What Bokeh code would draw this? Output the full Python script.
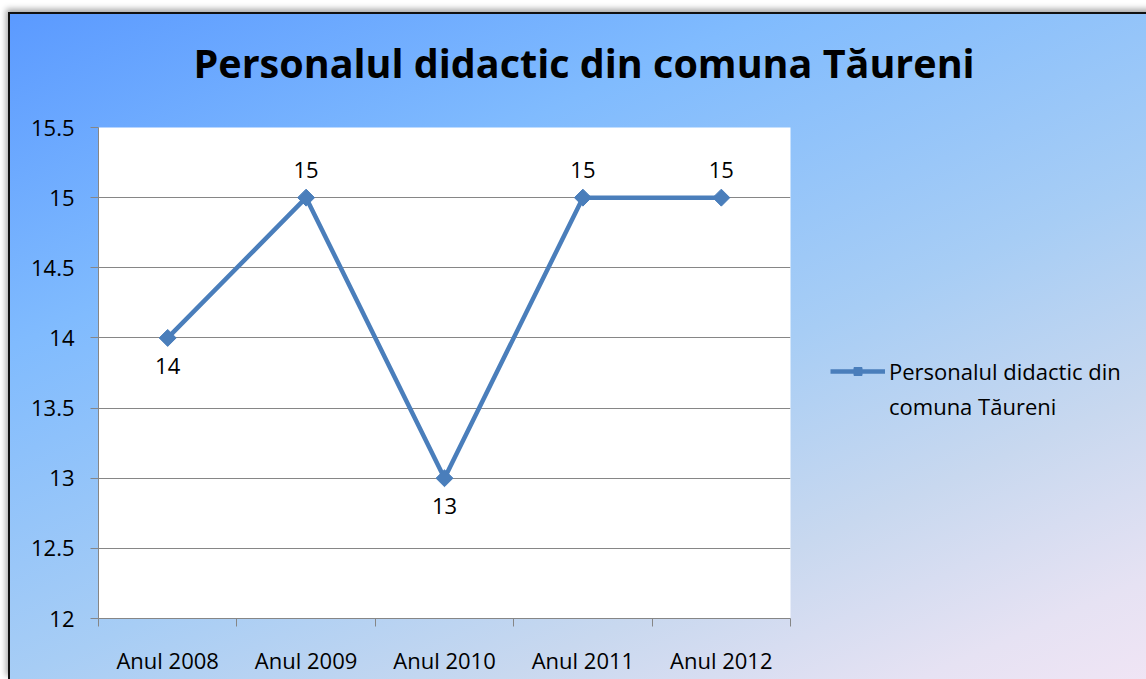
from bokeh.plotting import figure
from bokeh.models import FixedTicker, Legend, LegendItem, ColumnDataSource, Title
from bokeh.embed import file_html
from bokeh.resources import INLINE
from bokeh.core.properties import value

categories = ["Anul 2008", "Anul 2009", "Anul 2010", "Anul 2011", "Anul 2012"]
values = [14, 15, 13, 15, 15]
label_pos = ["below", "above", "below", "above", "above"]
y_ticks = [12.0, 12.5, 13.0, 13.5, 14.0, 14.5, 15.0, 15.5]
y_tick_labels = ["12", "12.5", "13", "13.5", "14", "14.5", "15", "15.5"]
chart_title = "Personalul didactic din comuna Tăureni"
series_name_lines = ["Personalul didactic din", "comuna Tăureni"]

FONT = "Open Sans"
LINE_COLOR = "#4A7EBB"
GRID = "#868686"

xs = [i + 0.5 for i in range(len(categories))]
offsets = [28 if pos == "below" else -28 for pos in label_pos]
src = ColumnDataSource(dict(x=xs, y=values, lbl=[str(v) for v in values], yoff=offsets))

p = figure(frame_width=692, frame_height=491, x_range=(0, len(categories)), y_range=(12, 15.5),
           output_backend="svg", toolbar_location=None,
           min_border_left=88, min_border_right=356, min_border_top=113, min_border_bottom=61)
p.styles = {
    "background": "linear-gradient(to bottom right, #5b9aff 0%, #80bbfe 25%, #a7cdf5 50%, "
                  "#c8d8ef 66%, #e6e2f3 80%, #f8e7f6 94%, #fae8f6 100%)",
    "border-left": "2px solid #111",
    "border-top": "2px solid #111",
    "margin-top": "12px",
    "margin-left": "8px",
    "box-shadow": "-2px -3px 6px rgba(0,0,0,0.35)",
}
p.border_fill_color = None
p.background_fill_color = "white"
p.outline_line_color = None

# title, with a spacer between it and the frame
p.title = None
spacer = Title(text=" ", text_font_size="1px", standoff=35)
main_title = Title(text=chart_title, text_font=FONT, text_font_style="bold",
                   text_font_size="39.5px", text_color="black", align="left",
                   offset=95, standoff=0)
p.add_layout(spacer, "above")
p.add_layout(main_title, "above")

# y axis
p.yaxis.ticker = FixedTicker(ticks=y_ticks)
p.yaxis.major_label_overrides = {t: l for t, l in zip(y_ticks, y_tick_labels)}
p.yaxis.major_label_text_font = FONT
p.yaxis.major_label_text_font_size = "22px"
p.yaxis.major_label_text_color = "black"
p.yaxis.major_label_standoff = 16
p.yaxis.axis_line_color = GRID
p.yaxis.major_tick_line_color = GRID
p.yaxis.major_tick_out = 8
p.yaxis.major_tick_in = 0
p.yaxis.minor_tick_line_color = None

# x axis
p.xaxis.ticker = FixedTicker(ticks=xs, minor_ticks=list(range(len(categories) + 1)))
p.xaxis.major_label_overrides = {x: c for x, c in zip(xs, categories)}
p.xaxis.major_label_text_font = FONT
p.xaxis.major_label_text_font_size = "22px"
p.xaxis.major_label_text_color = "black"
p.xaxis.major_label_standoff = 18
p.xaxis.axis_line_color = GRID
p.xaxis.major_tick_line_color = None
p.xaxis.major_tick_out = 0
p.xaxis.minor_tick_line_color = GRID
p.xaxis.minor_tick_out = 8
p.xaxis.minor_tick_in = 0

p.xgrid.grid_line_color = None
p.ygrid.ticker = FixedTicker(ticks=y_ticks)
p.ygrid.grid_line_color = GRID
p.ygrid.grid_line_width = 1

ln = p.line("x", "y", source=src, line_color=LINE_COLOR, line_width=4.5)
mk = p.scatter("x", "y", source=src, marker="square", angle=0.785398, size=12,
               fill_color=LINE_COLOR, line_color=LINE_COLOR)
p.text("x", "y", text="lbl", source=src, y_offset="yoff", text_align="center",
       text_baseline="middle", text_font=value(FONT), text_font_size="22px", text_color="black")

legend = Legend(items=[LegendItem(label=series_name_lines[0], renderers=[ln, mk]),
                       LegendItem(label=series_name_lines[1], renderers=[])],
                location=(40, 197), background_fill_alpha=0, border_line_color=None,
                label_text_font=FONT, label_text_font_size="22px", label_text_color="black",
                glyph_width=55, label_standoff=4, padding=0, margin=0, spacing=5)
p.add_layout(legend, "right")

open("out.html", "w").write(file_html(p, INLINE))
